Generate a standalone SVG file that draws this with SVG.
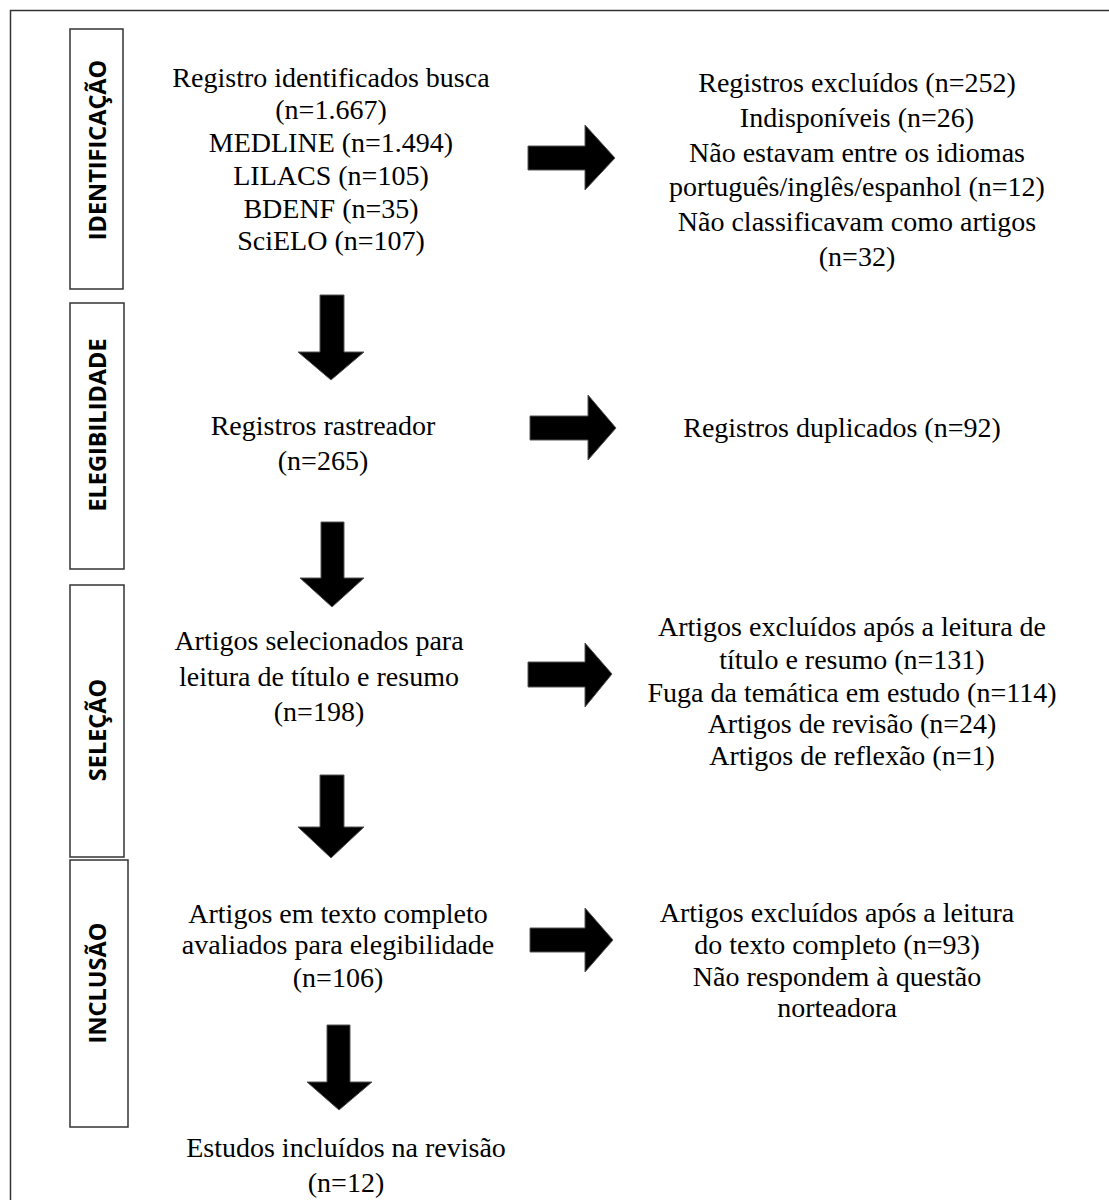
<svg xmlns="http://www.w3.org/2000/svg" width="1109" height="1200" viewBox="0 0 1109 1200">
<style>
.t{font-family:"Liberation Serif","Times New Roman",serif;font-size:28px;fill:#000;text-anchor:middle}
.lab{font-family:"Open Sans","Liberation Sans",sans-serif;font-weight:bold;font-size:23.5px;fill:#000;text-anchor:middle}
.box{fill:#fff;stroke:#333;stroke-width:1.5}
.arr{fill:#000;stroke:#555;stroke-width:1}
</style>
<rect width="1109" height="1200" fill="#fff"/>
<path d="M10.5 1200 V10.5 H1109" fill="none" stroke="#333" stroke-width="1.5"/>
<g id="label-identificacao">
<rect class="box" x="70" y="29" width="53" height="260"/>
<text class="lab" transform="translate(106,150) rotate(-90)">IDENTIFICAÇÃO</text>
</g>
<g id="label-elegibilidade">
<rect class="box" x="70" y="303" width="54" height="266"/>
<text class="lab" transform="translate(106,425) rotate(-90)">ELEGIBILIDADE</text>
</g>
<g id="label-selecao">
<rect class="box" x="70" y="585" width="54" height="272"/>
<text class="lab" transform="translate(106,730) rotate(-90)">SELEÇÃO</text>
</g>
<g id="label-inclusao">
<rect class="box" x="70" y="860" width="58" height="267"/>
<text class="lab" transform="translate(106,983) rotate(-90)">INCLUSÃO</text>
</g>
<g id="node-identificados">
<text class="t" x="331" y="87">Registro identificados busca</text>
<text class="t" x="331" y="119">(n=1.667)</text>
<text class="t" x="331" y="152">MEDLINE (n=1.494)</text>
<text class="t" x="331" y="185">LILACS (n=105)</text>
<text class="t" x="331" y="218">BDENF (n=35)</text>
<text class="t" x="331" y="250">SciELO (n=107)</text>
</g>
<g id="node-excluidos1">
<text class="t" x="857" y="92">Registros excluídos (n=252)</text>
<text class="t" x="857" y="127">Indisponíveis (n=26)</text>
<text class="t" x="857" y="162">Não estavam entre os idiomas</text>
<text class="t" x="857" y="196">português/inglês/espanhol (n=12)</text>
<text class="t" x="857" y="231">Não classificavam como artigos</text>
<text class="t" x="857" y="266">(n=32)</text>
</g>
<g id="node-rastreador">
<text class="t" x="323" y="435">Registros rastreador</text>
<text class="t" x="323" y="470">(n=265)</text>
</g>
<g id="node-duplicados">
<text class="t" x="842" y="437">Registros duplicados (n=92)</text>
</g>
<g id="node-selecionados">
<text class="t" x="319" y="650">Artigos selecionados para</text>
<text class="t" x="319" y="686">leitura de título e resumo</text>
<text class="t" x="319" y="721">(n=198)</text>
</g>
<g id="node-excluidos2">
<text class="t" x="852" y="636">Artigos excluídos após a leitura de</text>
<text class="t" x="852" y="669">título e resumo (n=131)</text>
<text class="t" x="852" y="702">Fuga da temática em estudo (n=114)</text>
<text class="t" x="852" y="733">Artigos de revisão (n=24)</text>
<text class="t" x="852" y="765">Artigos de reflexão (n=1)</text>
</g>
<g id="node-completo">
<text class="t" x="338" y="923">Artigos em texto completo</text>
<text class="t" x="338" y="954">avaliados para elegibilidade</text>
<text class="t" x="338" y="987">(n=106)</text>
</g>
<g id="node-excluidos3">
<text class="t" x="837" y="922">Artigos excluídos após a leitura</text>
<text class="t" x="837" y="954">do texto completo (n=93)</text>
<text class="t" x="837" y="986">Não respondem à questão</text>
<text class="t" x="837" y="1017">norteadora</text>
</g>
<g id="node-incluidos">
<text class="t" x="346" y="1157">Estudos incluídos na revisão</text>
<text class="t" x="346" y="1192">(n=12)</text>
</g>
<g id="connectors">
<polygon class="arr" points="320,295 344,295 344,352 364,352 331,380 298,352 320,352"/>
<polygon class="arr" points="321,522 344,522 344,578 364,578 332,607 300,578 321,578"/>
<polygon class="arr" points="320,775 344,775 344,827 364,827 331,858 298,827 320,827"/>
<polygon class="arr" points="327,1025 350,1025 350,1082 372,1082 339,1110 307,1082 327,1082"/>
<polygon class="arr" points="528,146 585,146 585,125 615,158 585,190 585,170 528,170"/>
<polygon class="arr" points="530,416 588,416 588,395 616,428 588,460 588,440 530,440"/>
<polygon class="arr" points="528,662 585,662 585,643 612,674 585,707 585,687 528,687"/>
<polygon class="arr" points="530,928 585,928 585,908 613,940 585,972 585,952 530,952"/>
</g>
</svg>
